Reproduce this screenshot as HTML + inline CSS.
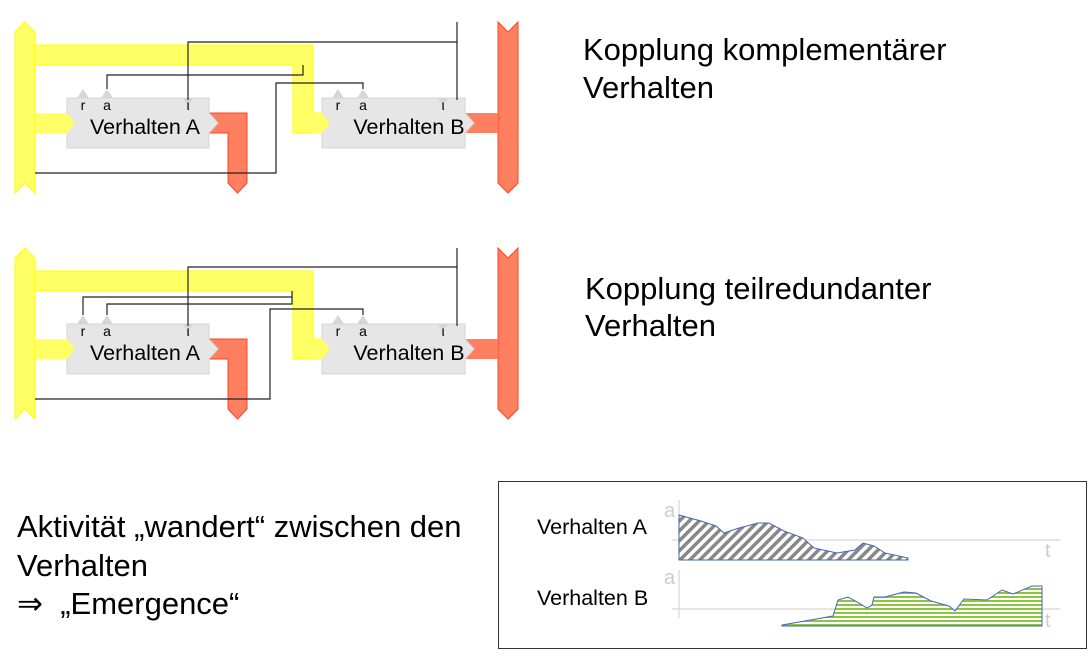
<!DOCTYPE html>
<html><head><meta charset="utf-8"><style>
html,body{margin:0;padding:0;background:#fff;}
body{width:1091px;height:659px;overflow:hidden;position:relative;font-family:"Liberation Sans",sans-serif;}
.t{position:absolute;color:#000;white-space:nowrap;}
</style></head><body>
<svg width="1091" height="659" style="position:absolute;left:0;top:0" font-family="Liberation Sans, sans-serif">
<defs>
<pattern id="hatch" width="7" height="7" patternUnits="userSpaceOnUse" patternTransform="rotate(45)">
<rect width="7" height="7" fill="#fff"/><rect width="3.5" height="7" fill="#888"/></pattern>
<pattern id="green" width="4" height="4" patternUnits="userSpaceOnUse">
<rect width="4" height="4" fill="#fff"/><rect width="4" height="2" fill="#8cc63f"/></pattern>
<g id="base">
<polygon points="15,32 25,22 35,32 35,193 25,183 15,193" fill="#ffff66" stroke="#ffff00"/>
<polygon points="35,45 313,45 313,113 322,113 330,123 322,133 293,133 293,65 35,65" fill="#ffff66" stroke="#ffff00"/>
<polygon points="209,113 247,113 247,183 237.5,193 228,183 228,133 209,133" fill="#ff8060" stroke="#ff4422"/>
<polygon points="498,22 508,32 518,22 518,183 508,193 498,183" fill="#ff8060" stroke="#ff4422"/>
<rect x="465" y="113" width="33" height="20" fill="#ff8060"/>
<polygon points="67,98 209,98 209,113 218,123 209,133 209,148 67,148" fill="#e6e6e6" stroke="#d6d6d6"/>
<polygon points="322,98 465,98 465,113 474,123 465,133 465,148 322,148" fill="#e6e6e6" stroke="#d6d6d6"/>
<polygon points="35,113 67,113 75,123 67,133 35,133" fill="#ffff66"/>
<polygon points="313,113 322,113 330,123 322,133 313,133" fill="#ffff66"/>
<g fill="#d6d6d6">
<polygon points="77,98 83,89 89,98"/><polygon points="101,98 107,89 113,98"/><polygon points="182,98 188,105 194,98"/>
<polygon points="332,98 338,89 344,98"/><polygon points="357,98 363,89 369,98"/><polygon points="437,98 443,105 449,98"/>
</g>
<g font-size="14" fill="#000" text-anchor="middle">
<text x="83" y="110">r</text><text x="107" y="110">a</text><text x="188" y="110">ι</text>
<text x="338" y="110">r</text><text x="363" y="110">a</text><text x="443" y="110">ι</text>
</g>
<g font-size="21.5" fill="#000" text-anchor="middle">
<text x="145" y="134">Verhalten A</text><text x="409" y="134">Verhalten B</text>
</g>
</g>
</defs>
<use href="#base"/>
<g fill="none" stroke="#222" stroke-width="1.2">
<polyline points="457,22 457,100"/>
<polyline points="188,100 188,42 457,42"/>
<polyline points="107,89 107,75 303,75 303,65"/>
<polyline points="363,89 363,83 276,83 276,173 35,173"/>
</g>
<g transform="translate(0,226)"><use href="#base"/></g>
<g fill="none" stroke="#222" stroke-width="1.2">
<polyline points="457,248 457,326"/>
<polyline points="188,326 188,267 457,267"/>
<polyline points="83,315 83,297 292,297 292,291"/>
<polyline points="107,315 107,304 292,304 292,297"/>
<polyline points="363,315 363,309 270,309 270,399 35,399"/>
</g>
<rect x="498.5" y="481.5" width="588" height="167" fill="#fff" stroke="#333"/>
<g stroke="#ddd" stroke-width="1.5" fill="none">
<line x1="672" y1="540" x2="1060" y2="540"/><line x1="679" y1="500" x2="679" y2="560"/>
<line x1="672" y1="609" x2="1060" y2="609"/><line x1="679" y1="570" x2="679" y2="618"/>
</g>
<g font-size="20" fill="#ccc">
<text x="664" y="517">a</text><text x="1045" y="557">t</text>
<text x="664" y="584">a</text><text x="1045" y="627">t</text>
</g>
<polygon points="679,515 701,521 716,526 724,533 739,528 758,523 769,523 784,531 803,538 814,548 837,553 855,550 863,543 874,546 885,553 908,558 908,560 679,560" fill="url(#hatch)" stroke="#4466bb" stroke-width="1"/>
<polygon points="782,625 833,616 838,600 848,597 859,603 867,608 872,605 874,597 885,597 904,592 916,593 931,601 949,606 955,611 964,599 987,600 1002,590 1013,594 1032,586 1042,586 1042,626 782,626" fill="url(#green)" stroke="#4466bb" stroke-width="1"/>
<g font-size="21.5" fill="#000">
<text x="537" y="534">Verhalten A</text><text x="537" y="605">Verhalten B</text>
</g>
</svg>
<div class="t" style="left:583px;top:31px;font-size:31px;line-height:38px">Kopplung komplementärer<br>Verhalten</div>
<div class="t" style="left:585px;top:270px;font-size:31px;line-height:37px">Kopplung teilredundanter<br>Verhalten</div>
<div class="t" style="left:17px;top:508px;font-size:31px;line-height:38.5px">Aktivität „wandert“ zwischen den<br>Verhalten<br>⇒&nbsp; „Emergence“</div>
</body></html>
